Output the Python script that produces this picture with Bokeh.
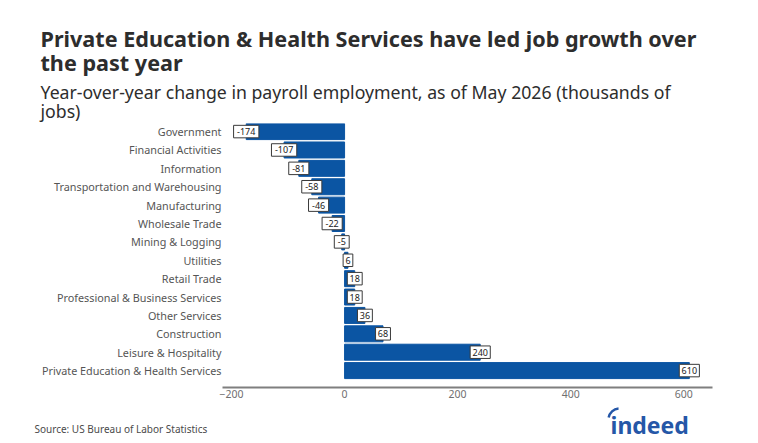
import math
from bokeh.plotting import figure
from bokeh.layouts import column
from bokeh.models import ColumnDataSource, Range1d, Label, FixedTicker
from bokeh.core.properties import value
from bokeh.embed import file_html
from bokeh.resources import INLINE

categories = [
    "Government", "Financial Activities", "Information",
    "Transportation and Warehousing", "Manufacturing", "Wholesale Trade",
    "Mining & Logging", "Utilities", "Retail Trade",
    "Professional & Business Services", "Other Services", "Construction",
    "Leisure & Hospitality", "Private Education & Health Services",
]
values = [-174, -107, -81, -58, -46, -22, -5, 6, 18, 18, 36, 68, 240, 610]
x_ticks = [-200, 0, 200, 400, 600]

title_lines = ["Private Education & Health Services have led job growth over",
               "the past year"]
subtitle_lines = ["Year-over-year change in payroll employment, as of May 2026 (thousands of",
                  "jobs)"]
source_text = "Source: US Bureau of Labor Statistics"
logo_text = "indeed"

FONT = "Noto Sans"
BLUE = "#0b55a3"
LOGO_BLUE = "#2557a7"

W = 758
HEAD_H, MAIN_H, FOOT_H = 123, 282, 38
ML, MR, MB = 222, 46, 18


def no_align(f):
    try:
        f.frame_align = False
    except Exception:
        pass


def blank_fig(h):
    f = figure(width=W, height=h, output_backend="svg", toolbar_location=None,
               x_range=Range1d(0, W), y_range=Range1d(0, h),
               x_axis_location=None, y_axis_location=None,
               min_border=0, min_border_left=0, min_border_right=0,
               min_border_top=0, min_border_bottom=0)
    f.outline_line_color = None
    f.grid.visible = False
    f.background_fill_color = "white"
    f.border_fill_color = "white"
    no_align(f)
    return f


def put(f, h, txt, cx, cy_base, size, color, style="normal"):
    f.add_layout(Label(x=cx, y=h - cy_base, text=txt, text_font=FONT,
                       text_font_size=size, text_color=color,
                       text_font_style=style, text_baseline="alphabetic",
                       text_align="left"))


# ---- header ----
head = blank_fig(HEAD_H)
put(head, HEAD_H, title_lines[0], 40, 37.5, "21.6px", "#2d2d2d", "bold")
put(head, HEAD_H, title_lines[1], 40, 61.5, "21.6px", "#2d2d2d", "bold")
put(head, HEAD_H, subtitle_lines[0], 40, 91, "17.7px", "#2d2d2d")
put(head, HEAD_H, subtitle_lines[1], 40, 110, "17.7px", "#2d2d2d")

# ---- main chart ----
n = len(categories)
ypos = [n - 1 - i for i in range(n)]
labs = [str(v) for v in values]
src = ColumnDataSource(dict(cat=categories, val=values, y=ypos, lab=labs,
                            boxw=[5.2 * len(s) + 4.5 for s in labs]))

p = figure(width=W, height=MAIN_H, output_backend="svg", toolbar_location=None,
           x_range=Range1d(-216, 651), y_range=Range1d(-0.92, 13.44),
           min_border_left=ML, min_border_right=MR, min_border_top=0,
           min_border_bottom=MB)
p.outline_line_color = None
p.grid.visible = False
p.background_fill_color = "white"
p.border_fill_color = "white"
no_align(p)

p.hbar(y="y", left=0, right="val", height=0.87, color=BLUE, source=src)

# value boxes
p.rect(x="val", y="y", width="boxw", height=12.5, width_units="screen",
       height_units="screen", fill_color="white", line_color="#3a3a3a",
       line_width=1, source=src)
p.text(x="val", y="y", text="lab", text_align="center", text_baseline="middle",
       text_font=value(FONT), text_font_size="9px", text_color="#222222",
       source=src)

xa = p.xaxis[0]
xa.ticker = FixedTicker(ticks=x_ticks)
xa.axis_line_color = "#7f7f7f"
xa.axis_line_width = 2
xa.major_tick_line_color = None
xa.minor_tick_line_color = None
xa.major_tick_out = 0
xa.major_tick_in = 0
xa.minor_tick_out = 0
xa.major_label_text_font = FONT
xa.major_label_text_font_size = "10.5px"
xa.major_label_text_color = "#6f6f6f"
xa.major_label_standoff = 2

ya = p.yaxis[0]
ya.ticker = FixedTicker(ticks=ypos)
ya.major_label_overrides = {y: c for y, c in zip(ypos, categories)}
ya.axis_line_color = None
ya.major_tick_line_color = None
ya.minor_tick_line_color = None
ya.major_tick_out = 0
ya.major_tick_in = 0
ya.minor_tick_out = 0
ya.major_label_text_font = FONT
ya.major_label_text_font_size = "10.8px"
ya.major_label_text_color = "#555555"
ya.major_label_standoff = 1

# ---- footer ----
foot = blank_fig(FOOT_H)
top = HEAD_H + MAIN_H
put(foot, FOOT_H, source_text, 34, 428 - top, "10px", "#4a4a4a")
put(foot, FOOT_H, logo_text, 610, 424 - top, "23px", LOGO_BLUE, "bold")
foot.arc(x=[619], y=[FOOT_H - (419 - top)], radius=11,
         start_angle=math.radians(95), end_angle=math.radians(170),
         line_color=LOGO_BLUE, line_width=2.5)

layout = column(head, p, foot, spacing=0)
open("out.html", "w").write(file_html(layout, INLINE))
